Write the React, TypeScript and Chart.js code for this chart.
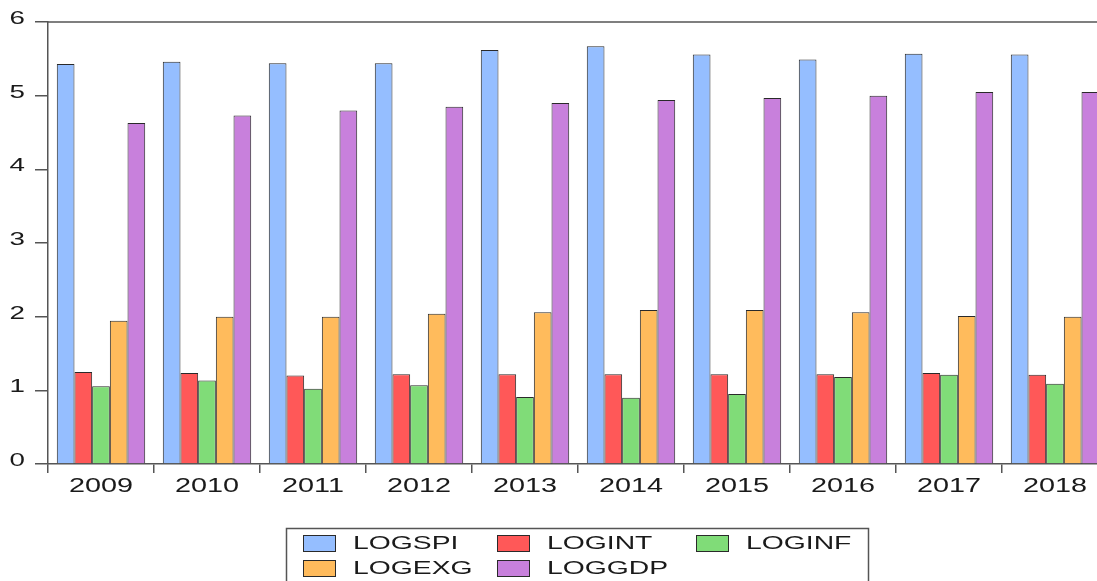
import React, { useEffect, useRef } from "react";
import { Chart, registerables } from "chart.js";

Chart.register(...registerables);

const categories = ["2009", "2010", "2011", "2012", "2013", "2014", "2015", "2016", "2017", "2018"];
const logSPI = [5.43, 5.46, 5.44, 5.44, 5.62, 5.67, 5.56, 5.49, 5.57, 5.56];
const logINT = [1.25, 1.235, 1.2, 1.22, 1.22, 1.22, 1.22, 1.22, 1.235, 1.21];
const logINF = [1.055, 1.135, 1.02, 1.07, 0.91, 0.9, 0.95, 1.18, 1.21, 1.09];
const logEXG = [1.945, 2.0, 2.0, 2.04, 2.06, 2.09, 2.09, 2.06, 2.01, 2.0];
const logGDP = [4.63, 4.73, 4.8, 4.85, 4.9, 4.94, 4.97, 5.0, 5.05, 5.05];
const seriesNames = ["LOGSPI", "LOGINT", "LOGINF", "LOGEXG", "LOGGDP"];
const seriesColors = ["#95BEFF", "#FF5858", "#80DC78", "#FFBB5C", "#C880DC"];
const yMin = 0;
const yMax = 6;

const FONT = '"Liberation Sans", Arial, sans-serif';
const TEXT_COLOR = "#1a1a1a";
const AXIS_COLOR = "#555555";

function drawStretched(
  ctx: CanvasRenderingContext2D,
  text: string,
  x: number,
  y: number,
  size: number,
  sx: number,
  align: CanvasTextAlign,
  baseline: CanvasTextBaseline
) {
  ctx.save();
  ctx.translate(x, y);
  ctx.scale(sx, 1);
  ctx.font = `${size}px ${FONT}`;
  ctx.fillStyle = TEXT_COLOR;
  ctx.textAlign = align;
  ctx.textBaseline = baseline;
  ctx.fillText(text, 0, 0);
  ctx.restore();
}

const decorPlugin = {
  id: "decor",
  afterDraw(chart: any) {
    const ctx: CanvasRenderingContext2D = chart.ctx;
    const area = chart.chartArea;
    const xs = chart.scales.x;
    const ys = chart.scales.y;

    // top frame line
    ctx.save();
    ctx.strokeStyle = AXIS_COLOR;
    ctx.lineWidth = 1.5;
    ctx.beginPath();
    ctx.moveTo(area.left, area.top);
    ctx.lineTo(area.right, area.top);
    ctx.stroke();
    ctx.restore();

    // y tick labels
    ys.ticks.forEach((t: any) => {
      const py = ys.getPixelForValue(t.value);
      drawStretched(ctx, String(t.value), 25, py - 3, 18.5, 1.5, "right", "middle");
    });

    // x tick labels
    categories.forEach((c, i) => {
      const px = xs.getPixelForValue(i);
      drawStretched(ctx, c, px, 492, 20, 1.44, "center", "alphabetic");
    });

    // legend
    ctx.save();
    ctx.strokeStyle = AXIS_COLOR;
    ctx.lineWidth = 1.5;
    ctx.strokeRect(286.5, 528.5, 582, 80);
    ctx.restore();

    const colX = [303, 497, 696];
    const rowY = [535, 560];
    const baseY = [548.5, 573.5];
    chart.data.datasets.forEach((ds: any, i: number) => {
      const col = i % 3;
      const row = Math.floor(i / 3);
      const sx = colX[col];
      const sy = rowY[row];
      ctx.save();
      ctx.fillStyle = ds.backgroundColor;
      ctx.fillRect(sx, sy, 32, 16);
      ctx.strokeStyle = "#2a2a2a";
      ctx.lineWidth = 1;
      ctx.strokeRect(sx + 0.5, sy + 0.5, 32, 16);
      ctx.restore();
      drawStretched(ctx, ds.label, sx + 50, baseY[row], 18.5, 1.53, "left", "alphabetic");
    });
  },
};

export default function App() {
  const canvasRef = useRef<HTMLCanvasElement | null>(null);

  useEffect(() => {
    document.body.style.margin = "0";
    document.body.style.overflow = "hidden";
    document.documentElement.style.overflow = "hidden";
    const canvas = canvasRef.current;
    if (!canvas) return;
    const seriesData = [logSPI, logINT, logINF, logEXG, logGDP];
    const chart = new Chart(canvas, {
      type: "bar",
      data: {
        labels: categories,
        datasets: seriesNames.map((name, i) => ({
          label: name,
          data: seriesData[i],
          backgroundColor: seriesColors[i],
          borderColor: "#2a2a2a",
          borderWidth: 1,
          categoryPercentage: 0.834,
          barPercentage: 1.0,
        })),
      },
      options: {
        responsive: false,
        animation: false,
        devicePixelRatio: 1,
        layout: { padding: { left: 0, top: 22, right: 12, bottom: 0 } },
        plugins: {
          legend: { display: false },
          tooltip: { enabled: false },
          title: { display: false },
        },
        scales: {
          x: {
            type: "category",
            offset: true,
            grid: {
              offset: true,
              drawOnChartArea: false,
              drawTicks: true,
              tickLength: 9,
              color: AXIS_COLOR,
              lineWidth: 1.5,
            },
            border: { display: true, color: AXIS_COLOR, width: 1.5 },
            ticks: { display: false },
            afterFit: (scale: any) => {
              scale.height = 117;
            },
          },
          y: {
            min: yMin,
            max: yMax,
            ticks: { display: false, stepSize: 1 },
            grid: {
              drawOnChartArea: false,
              drawTicks: true,
              tickLength: 13,
              color: AXIS_COLOR,
              lineWidth: 1.5,
            },
            border: { display: true, color: AXIS_COLOR, width: 1.5 },
            afterFit: (scale: any) => {
              scale.width = 48;
            },
          },
        },
      },
      plugins: [decorPlugin],
    } as any);
    return () => chart.destroy();
  }, []);

  return (
    <div style={{ position: "fixed", left: 0, top: 0, width: 1120, height: 581, background: "#ffffff" }}>
      <canvas ref={canvasRef} width={1120} height={581} style={{ display: "block" }} />
    </div>
  );
}
